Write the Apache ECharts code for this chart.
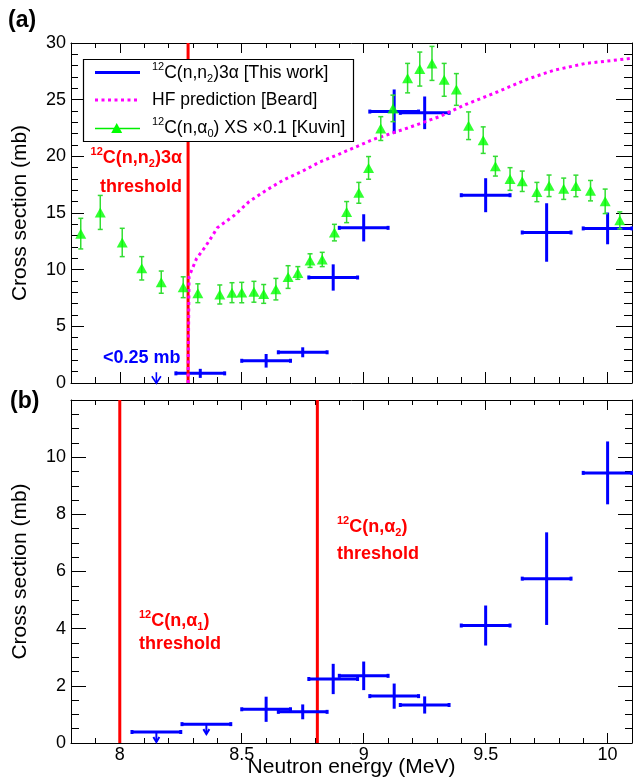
<!DOCTYPE html>
<html><head><meta charset="utf-8">
<script src="https://cdn.jsdelivr.net/npm/echarts@6/dist/echarts.min.js"></script>
<style>html,body{margin:0;padding:0;background:#fff}#c{width:633px;height:783px}</style>
</head><body><div id="c"></div>
<script>
const FONT = '"Liberation Sans", Arial, Helvetica, sans-serif';

// ---------- panel (a) ----------
const kuvinE   = [7.84,7.92,8.01,8.09,8.17,8.26,8.32,8.41,8.46,8.50,8.55,8.59,8.64,8.69,8.73,8.78,8.83,8.88,8.93,8.98,9.02,9.07,9.12,9.18,9.23,9.28,9.33,9.38,9.43,9.49,9.54,9.60,9.65,9.71,9.76,9.82,9.87,9.93,9.99,10.05];
const kuvinXS  = [13.18,15.05,12.4,10.12,8.9,8.45,7.92,7.81,7.97,7.98,8.05,7.86,8.28,9.35,9.71,10.8,10.9,13.27,15.08,16.78,18.98,22.45,24.23,26.9,27.7,28.2,26.75,25.9,22.7,21.43,19.13,18.0,17.8,16.85,17.4,17.14,17.39,16.97,16.03,14.35];
const kuvinErr = [1.35,1.5,1.25,1.03,0.98,0.92,0.83,0.84,0.88,0.9,0.92,0.83,0.95,1.0,0.56,0.6,0.63,0.73,0.93,0.92,1.0,1.05,1.17,1.3,1.5,1.5,1.45,1.4,1.22,1.17,0.87,1.0,0.9,0.85,0.95,0.94,0.95,0.9,1.08,0.75];

const hfE  = [8.28,8.284,8.315,8.35,8.38,8.40,8.47,8.53,8.60,8.67,8.75,8.82,8.90,9.04,9.18,9.31,9.41,9.55,9.67,9.78,9.91,10.1];
const hfXS = [0,9.4,11.0,12.0,13.0,13.7,14.8,16.0,17.0,17.9,18.7,19.5,20.2,21.5,22.5,23.5,24.5,25.7,26.8,27.6,28.2,28.65];

const n2E    = [8.33,8.6,8.75,8.875,9.0,9.125,9.25,9.5,9.75,10.0];
const n2XS   = [0.85,1.96,2.71,9.31,13.69,23.95,23.84,16.57,13.28,13.64];
const n2Err  = [0.4,0.6,0.44,1.16,1.2,1.95,1.44,1.5,2.58,1.4];
const n2Half = [0.1,0.1,0.1,0.1,0.1,0.1,0.1,0.1,0.1,0.1];
const n2LimE  = [8.15];
const n2LimXS = [0.95];
const n2LimHalf = [0];
const thresholdA = [8.28];

// ---------- panel (b) ----------
const totE    = [8.6,8.75,8.875,9.0,9.125,9.25,9.5,9.75,10.0];
const totXS   = [1.18,1.09,2.24,2.35,1.64,1.33,4.11,5.75,9.45];
const totErr  = [0.44,0.26,0.53,0.5,0.44,0.3,0.7,1.62,1.1];
const totHalf = [0.1,0.1,0.1,0.1,0.1,0.1,0.1,0.1,0.1];
const totLimE   = [8.15,8.355];
const totLimXS  = [0.385,0.66];
const totLimHalf = [0.1,0.1];
const thresholdB = [8.0,8.81];

// ---------- ticks ----------
const xMajorTicks = [8,8.5,9,9.5,10];
const xMinorTicks = [7.8,7.9,8.0,8.1,8.2,8.3,8.4,8.5,8.6,8.7,8.8,8.9,9.0,9.1,9.2,9.3,9.4,9.5,9.6,9.7,9.8,9.9,10.0,10.1];

const chart = echarts.init(document.getElementById('c'), null, {renderer:'canvas'});

function xAx(grid, pos, ticks, len, line, extra) {
  return Object.assign({
    type:'value', gridIndex:grid, position:pos, min:7.8, max:10.1,
    axisLine:{show:line, onZero:false, lineStyle:{color:'#000', width:1}},
    axisTick:{show:true, inside:true, length:len, customValues:ticks, lineStyle:{color:'#000', width:1}},
    axisLabel:{show:false},
    splitLine:{show:false}, minorTick:{show:false}, minorSplitLine:{show:false}
  }, extra || {});
}
function yAx(grid, pos, max, interval, len, mlen, split, extra) {
  return Object.assign({
    type:'value', gridIndex:grid, position:pos, min:0, max:max, interval:interval,
    axisLine:{show:true, onZero:false, lineStyle:{color:'#000', width:1}},
    axisTick:{show:true, inside:true, length:len, lineStyle:{color:'#000', width:1}},
    minorTick:{show:true, splitNumber:split, length:mlen, lineStyle:{color:'#000', width:1}},
    axisLabel:{show:false},
    splitLine:{show:false}, minorSplitLine:{show:false}
  }, extra || {});
}
const yLabel = (hideMax) => ({show:true, margin:5, color:'#000', fontSize:18, fontFamily:FONT,
  formatter: v => (hideMax !== null && v === hideMax) ? '' : String(v)});
const yName = {name:'Cross section (mb)', nameLocation:'middle', nameGap:40, nameMoveOverlap:false,
  nameTextStyle:{color:'#000', fontSize:21, fontFamily:FONT}};

function crossRender(color, width, capH, capV) {
  return function (params, api) {
    const x = api.value(0), y = api.value(1), xe = api.value(2), ye = api.value(3);
    const st = {stroke:color, lineWidth:width, lineCap:'butt'};
    const ch = [];
    if (xe > 0) {
      const l = api.coord([x - xe, y]), r = api.coord([x + xe, y]);
      ch.push({type:'line', shape:{x1:l[0], y1:l[1], x2:r[0], y2:r[1]}, style:st});
      if (capV) {
        ch.push({type:'line', shape:{x1:l[0], y1:l[1]-capV, x2:l[0], y2:l[1]+capV}, style:st});
        ch.push({type:'line', shape:{x1:r[0], y1:r[1]-capV, x2:r[0], y2:r[1]+capV}, style:st});
      }
    }
    if (ye > 0) {
      const t = api.coord([x, y + ye]), b = api.coord([x, y - ye]);
      ch.push({type:'line', shape:{x1:t[0], y1:t[1], x2:b[0], y2:b[1]}, style:st});
      if (capH) {
        ch.push({type:'line', shape:{x1:t[0]-capH, y1:t[1], x2:t[0]+capH, y2:t[1]}, style:st});
        ch.push({type:'line', shape:{x1:b[0]-capH, y1:b[1], x2:b[0]+capH, y2:b[1]}, style:st});
      }
    }
    return {type:'group', children:ch};
  };
}
function limitRender(color, width, arrowLen, headW, headH) {
  return function (params, api) {
    const x = api.value(0), y = api.value(1), xe = api.value(2);
    const st = {stroke:color, lineWidth:width, lineCap:'butt', fill:null};
    const ch = [];
    const p = api.coord([x, y]);
    if (xe > 0) {
      const l = api.coord([x - xe, y]), r = api.coord([x + xe, y]);
      ch.push({type:'line', shape:{x1:l[0], y1:l[1], x2:r[0], y2:r[1]}, style:{stroke:color, lineWidth:3}});
      ch.push({type:'line', shape:{x1:l[0], y1:l[1]-2, x2:l[0], y2:l[1]+2}, style:{stroke:color, lineWidth:3}});
      ch.push({type:'line', shape:{x1:r[0], y1:r[1]-2, x2:r[0], y2:r[1]+2}, style:{stroke:color, lineWidth:3}});
    }
    const tip = p[1] + arrowLen;
    ch.push({type:'line', shape:{x1:p[0], y1:p[1], x2:p[0], y2:tip}, style:st});
    ch.push({type:'polyline', shape:{points:[[p[0]-headW, tip-headH],[p[0], tip],[p[0]+headW, tip-headH]]}, style:st});
    return {type:'group', children:ch};
  };
}
function vlineRender(color, width) {
  return function (params, api) {
    const x = api.coord([api.value(0), 0])[0];
    const cs = params.coordSys;
    return {type:'line', shape:{x1:x, y1:cs.y, x2:x, y2:cs.y + cs.height}, style:{stroke:color, lineWidth:width}};
  };
}

function richText(x, y, text, size, bold, color, align) {
  const fw = bold ? 'bold' : 'normal';
  const small = Math.round(size * 0.62);
  return {
    type:'text', x:x, y:y, silent:true, z:100,
    style:{
      text:text, align:align||'left', textAlign:align||'left',
      verticalAlign:'middle', textVerticalAlign:'middle',
      fill:color, fontSize:size, fontWeight:fw, fontFamily:FONT,
      rich:{
        m:{fontSize:size, fontWeight:fw, fontFamily:FONT, fill:color, lineHeight:Math.round(size*1.3)},
        sup:{fontSize:small, fontWeight:fw, fontFamily:FONT, fill:color, lineHeight:small+1, verticalAlign:'top'},
        sub:{fontSize:small, fontWeight:fw, fontFamily:FONT, fill:color, lineHeight:small+1, verticalAlign:'bottom'}
      }
    }
  };
}

const option = {
  animation:false,
  backgroundColor:'#fff',
  grid:[
    {left:71, top:43, width:561, height:340, outerBoundsMode:'none', containLabel:false},
    {left:71, top:400, width:561, height:343, outerBoundsMode:'none', containLabel:false}
  ],
  xAxis:[
    xAx(0,'bottom',xMajorTicks,11,true),
    xAx(0,'bottom',xMinorTicks,6,false),
    xAx(0,'top',xMajorTicks,10,true),
    xAx(0,'top',xMinorTicks,5,false),
    xAx(1,'bottom',xMajorTicks,10,true,{
      axisLabel:{show:true, customValues:xMajorTicks, margin:3, color:'#000', fontSize:18, fontFamily:FONT},
      name:'Neutron energy (MeV)', nameLocation:'middle', nameGap:14, nameMoveOverlap:false,
      nameTextStyle:{color:'#000', fontSize:21, fontFamily:FONT}
    }),
    xAx(1,'bottom',xMinorTicks,5,false),
    xAx(1,'top',xMajorTicks,10,true),
    xAx(1,'top',xMinorTicks,5,false)
  ],
  yAxis:[
    yAx(0,'left',30,5,13,7,5,Object.assign({axisLabel:yLabel(null)}, yName)),
    yAx(0,'right',30,5,16,8,5),
    yAx(1,'left',12,2,15,8,4,Object.assign({axisLabel:yLabel(12)}, yName)),
    yAx(1,'right',12,2,14,7,4)
  ],
  series:[
    // panel (a)
    {type:'custom', name:'12C(n,n2)3α [This work]', xAxisIndex:0, yAxisIndex:0, z:2,
      renderItem:crossRender('#0000ff',3,0,2),
      data:n2E.map((e,i)=>[e, n2XS[i], n2Half[i], n2Err[i]])},
    {type:'custom', name:'upper limit (a)', xAxisIndex:0, yAxisIndex:0, z:2,
      renderItem:limitRender('#0000ff',1.6,11,4.5,7),
      data:n2LimE.map((e,i)=>[e, n2LimXS[i], n2LimHalf[i]])},
    {type:'custom', name:'threshold (a)', xAxisIndex:0, yAxisIndex:0, z:3,
      renderItem:vlineRender('#ff0000',3), data:thresholdA.map(v=>[v,0])},
    {type:'line', name:'HF prediction [Beard]', xAxisIndex:0, yAxisIndex:0, z:4,
      symbol:'none', lineStyle:{color:'#ff00ff', width:3, type:[3,3.5], cap:'butt'},
      data:hfE.map((e,i)=>[e, hfXS[i]])},
    {type:'custom', name:'Kuvin errors', xAxisIndex:0, yAxisIndex:0, z:5,
      renderItem:crossRender('#33dd33',1.5,2.5,0),
      data:kuvinE.map((e,i)=>[e, kuvinXS[i], 0, kuvinErr[i]])},
    {type:'scatter', name:'12C(n,α0) XS ×0.1 [Kuvin]', xAxisIndex:0, yAxisIndex:0, z:6,
      symbol:'triangle', symbolSize:[11,10], itemStyle:{color:'#00ff00'},
      data:kuvinE.map((e,i)=>[e, kuvinXS[i]])},
    // panel (b)
    {type:'custom', name:'thresholds (b)', xAxisIndex:4, yAxisIndex:2, z:3,
      renderItem:vlineRender('#ff0000',3), data:thresholdB.map(v=>[v,0])},
    {type:'custom', name:'This work (b)', xAxisIndex:4, yAxisIndex:2, z:4,
      renderItem:crossRender('#0000ff',3,0,2),
      data:totE.map((e,i)=>[e, totXS[i], totHalf[i], totErr[i]])},
    {type:'custom', name:'upper limits (b)', xAxisIndex:4, yAxisIndex:2, z:4,
      renderItem:limitRender('#0000ff',2,10,3,5),
      data:totLimE.map((e,i)=>[e, totLimXS[i], totLimHalf[i]])}
  ],
  graphic:[
    {type:'text', x:8, y:21, silent:true, style:{text:'(a)', fontSize:23, fontWeight:'bold', fontFamily:FONT, fill:'#000', verticalAlign:'middle', textVerticalAlign:'middle'}},
    {type:'text', x:10, y:402, silent:true, style:{text:'(b)', fontSize:23, fontWeight:'bold', fontFamily:FONT, fill:'#000', verticalAlign:'middle', textVerticalAlign:'middle'}},
    // legend
    {type:'rect', z:50, shape:{x:83.5, y:59.5, width:270, height:82}, style:{fill:'#fff', stroke:'#000', lineWidth:1.2}},
    {type:'line', z:51, shape:{x1:95, y1:72.5, x2:140, y2:72.5}, style:{stroke:'#0000ff', lineWidth:3}},
    {type:'line', z:51, shape:{x1:95, y1:100, x2:140, y2:100}, style:{stroke:'#ff00ff', lineWidth:3, lineDash:[3,3.5]}},
    {type:'line', z:51, shape:{x1:95, y1:128.5, x2:140, y2:128.5}, style:{stroke:'#00ee00', lineWidth:1.5}},
    {type:'polygon', z:52, shape:{points:[[116.7,123],[111.2,133],[122.2,133]]}, style:{fill:'#00ff00'}},
    richText(152, 73, '{sup|12}{m|C(n,n}{sub|2}{m|)3α [This work]}', 17.5, false, '#000'),
    richText(152, 100, '{m|HF prediction [Beard]}', 17.5, false, '#000'),
    richText(152, 128, '{sup|12}{m|C(n,α}{sub|0}{m|) XS ×0.1 [Kuvin]}', 17.5, false, '#000'),
    // annotations
    richText(182, 158, '{sup|12}{m|C(n,n}{sub|2}{m|)3α}', 18, true, '#ff0000', 'right'),
    richText(182, 187, '{m|threshold}', 18, true, '#ff0000', 'right'),
    richText(103, 358, '{m|<0.25 mb}', 18, true, '#0000ff'),
    richText(139, 621, '{sup|12}{m|C(n,α}{sub|1}{m|)}', 18, true, '#ff0000'),
    richText(139, 644, '{m|threshold}', 18, true, '#ff0000'),
    richText(337, 527, '{sup|12}{m|C(n,α}{sub|2}{m|)}', 18, true, '#ff0000'),
    richText(337, 554, '{m|threshold}', 18, true, '#ff0000')
  ]
};
chart.setOption(option);
</script>
</body></html>
